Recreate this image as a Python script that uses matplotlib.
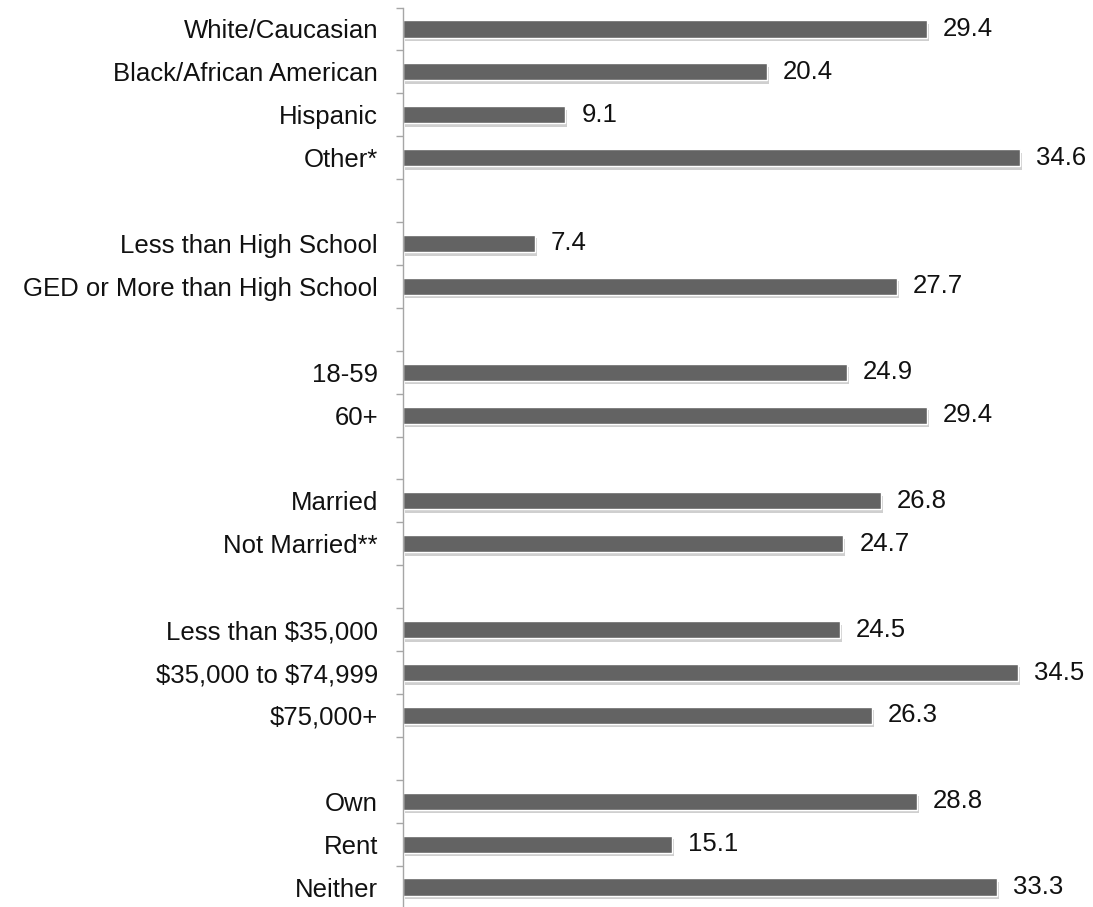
import matplotlib
matplotlib.use("Agg")
import matplotlib.pyplot as plt
import matplotlib.patheffects as pe

# groups of categories, a blank slot between each group
race = ["White/Caucasian", "Black/African American", "Hispanic", "Other*"]
race_vals = [29.4, 20.4, 9.1, 34.6]
educ = ["Less than High School", "GED or More than High School"]
educ_vals = [7.4, 27.7]
age = ["18-59", "60+"]
age_vals = [24.9, 29.4]
marital = ["Married", "Not Married**"]
marital_vals = [26.8, 24.7]
income = ["Less than \\$35,000", "\\$35,000 to \\$74,999", "\\$75,000+"]
income_vals = [24.5, 34.5, 26.3]
housing = ["Own", "Rent", "Neither"]
housing_vals = [28.8, 15.1, 33.3]

groups = [(race, race_vals), (educ, educ_vals), (age, age_vals),
          (marital, marital_vals), (income, income_vals), (housing, housing_vals)]

labels = []
values = []
pos = []
slot = 0
for names, vals in groups:
    for n, v in zip(names, vals):
        labels.append(n)
        values.append(v)
        pos.append(slot)
        slot += 1
    slot += 1
nslots = slot - 1

plt.rcParams['font.family'] = ['Liberation Sans', 'DejaVu Sans']

fig = plt.figure(figsize=(10.93, 9.07), dpi=100)
ax = fig.add_axes([403 / 1093, (907 - 908.5) / 907, 690 / 1093, 901 / 907])

bars = ax.barh(pos, values, height=0.40, color="#636363", edgecolor="white", linewidth=1.0)
for b in bars:
    b.set_path_effects([pe.SimplePatchShadow(offset=(1.5, -2.5), shadow_rgbFace="#a0a0a0", alpha=0.5),
                        pe.Normal()])

for p, v in zip(pos, values):
    ax.text(v + 0.9, p, f"{v:.1f}", va="center", ha="left", fontsize=18.5, color="#111111")

ax.set_xlim(0, 690 / 17.83)
ax.set_ylim(nslots - 0.5, -0.5)
ax.set_yticks(pos)
ax.set_yticklabels(labels, fontsize=18.5, color="#111111")
ax.set_yticks([k - 0.5 for k in range(nslots + 1)], minor=True)
ax.tick_params(axis="y", which="major", length=0, pad=18)
ax.tick_params(axis="y", which="minor", length=5, color="#a6a6a6", width=1)
ax.set_xticks([])
for s in ["top", "right", "bottom"]:
    ax.spines[s].set_visible(False)
ax.spines["left"].set_color("#a6a6a6")
ax.spines["left"].set_linewidth(1)

fig.savefig("out.png", dpi=100)
